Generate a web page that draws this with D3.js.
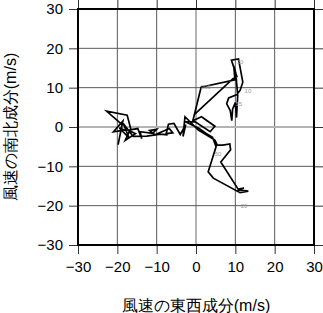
<!DOCTYPE html>
<html>
<head>
<meta charset="utf-8">
<script src="https://cdn.jsdelivr.net/npm/d3@7"></script>
<style>
  body { margin: 0; background: #fff; }
  text { font-family: "Liberation Sans", Arial, sans-serif; }
</style>
</head>
<body>
<svg width="323" height="313"></svg>
<script>
const svg = d3.select("svg");

// axis ticks
const xTicks = [-30, -20, -10, 0, 10, 20, 30];
const yTicks = [-30, -20, -10, 0, 10, 20, 30];

// wind components (m/s), in path order
const windU = [
  -0.3, 9.4, 10.4, 9.0, 10.8, 11.9, 11.2, 10.3, 8.3, 7.8, 8.7, 9.1, 9.3, 10.0, 10.3, 10.6, 10.1, 9.6, 9.9, 1.3, -0.8,
  1.4, 4.8, 3.6, -0.2, -2.8, 0.8, 2.5, 4.2, 5.1, 3.1, 4.4, 11.2, 13.3, 10.6, 12.2, 10.7, 6.3, 8.8, 8.6, 6.8, 5.4, 4.8, 2.8, 0.6,
  -2.8, -3.3, -2.6, -4.0, -5.6, -7.0, -7.6, -5.9, -6.8, -10.4, -11.8, -10.0, -11.0, -14.2, -13.8, -14.8, -17.2, -15.4, -18.0,
  -16.6, -17.5, -22.7, -18.8, -19.8, -18.6, -21.0, -18.2, -19.5, -17.0, -18.5, -16.0, -12.5, -9.0, -7.2
];
const windV = [
  3.3, 12.3, 12.8, 17.0, 17.3, 11.4, 9.3, 8.2, 7.4, 5.9, 4.2, 1.6, 4.5, 6.2, 2.4, 8.0, 13.8, 15.5, 12.0, 10.1, 1.6,
  2.6, 0.2, -1.2, 1.3, 1.4, -0.4, -1.6, -2.6, -5.0, -11.4, -13.0, -16.7, -16.3, -16.0, -15.5, -15.8, -8.9, -5.8, -4.3, -4.6, -4.6, -3.3, -2.1, -0.8,
  2.6, -2.4, 0.6, -1.9, 0.9, 0.7, -1.7, -1.5, -0.4, -2.0, -0.9, -0.6, -1.6, -1.2, -3.0, -0.4, -0.8, -1.7, -3.4,
  -0.4, 3.0, 4.0, 0.6, -4.5, 1.5, -1.2, -0.8, -0.2, -2.8, 0.9, -2.4, -2.3, -1.8, -2.0
];

// small grey time labels along the trace
const markText = ["30", "200", "10", "15", "50", "20"];
const markU = [11.2, 2.5, 13.2, 10.9, 5.6, 12.2];
const markV = [16.5, 10.2, 9.2, 5.8, -6.9, -20.1];

const pL = 78, pR = 314, pT = 9, pB = 245;

const x = d3.scaleLinear().domain([-30, 30]).range([pL, pR]);
const y = d3.scaleLinear().domain([-30, 30]).range([pB, pT]);

// grid
const grid = svg.append("g");
grid.selectAll(".gx").data(xTicks).join("line")
  .attr("x1", d => x(d)).attr("x2", d => x(d))
  .attr("y1", pT).attr("y2", pB)
  .attr("stroke", d => d === 0 ? "#b4b4b4" : "#5a5a5a")
  .attr("stroke-width", d => d === 0 ? 2 : 1);
grid.selectAll(".gy").data(yTicks).join("line")
  .attr("y1", d => y(d)).attr("y2", d => y(d))
  .attr("x1", pL).attr("x2", pR)
  .attr("stroke", d => d === 0 ? "#b4b4b4" : "#5a5a5a")
  .attr("stroke-width", d => d === 0 ? 2 : 1);

// axes with outward ticks on all four sides
const tl = 9;
svg.append("g").attr("transform", `translate(0,${pB})`)
  .call(d3.axisBottom(x).tickValues(xTicks).tickSize(tl).tickSizeOuter(0).tickPadding(7))
  .call(g => g.select(".domain").remove());
svg.append("g").attr("transform", `translate(0,${pT})`)
  .call(d3.axisTop(x).tickValues(xTicks).tickSize(tl).tickSizeOuter(0).tickFormat(""))
  .call(g => g.select(".domain").remove());
svg.append("g").attr("transform", `translate(${pL},0)`)
  .call(d3.axisLeft(y).tickValues(yTicks).tickSize(tl).tickSizeOuter(0).tickPadding(6))
  .call(g => g.select(".domain").remove());
svg.append("g").attr("transform", `translate(${pR},0)`)
  .call(d3.axisRight(y).tickValues(yTicks).tickSize(tl).tickSizeOuter(0).tickFormat(""))
  .call(g => g.select(".domain").remove());

svg.selectAll(".tick line").attr("stroke", "#333");
svg.selectAll(".tick text")
  .attr("font-family", "'Liberation Sans', Arial, sans-serif")
  .attr("font-size", 15)
  .attr("fill", "#000");

// frame
svg.append("rect")
  .attr("x", pL).attr("y", pT)
  .attr("width", pR - pL).attr("height", pB - pT)
  .attr("fill", "none").attr("stroke", "#000").attr("stroke-width", 2);

// trace
const pts = windU.map((u, i) => [u, windV[i]]);
svg.append("path")
  .datum(pts)
  .attr("fill", "none")
  .attr("stroke", "#000")
  .attr("stroke-width", 1.7)
  .attr("stroke-linejoin", "miter")
  .attr("d", d3.line().x(d => x(d[0])).y(d => y(d[1])));

svg.append("g").selectAll("text").data(markText).join("text")
  .attr("x", (d, i) => x(markU[i]))
  .attr("y", (d, i) => y(markV[i]))
  .attr("dy", "0.35em")
  .attr("text-anchor", "middle")
  .attr("font-size", 6)
  .attr("fill", "#999")
  .text(d => d);

// titles
svg.append("text")
  .attr("x", (pL + pR) / 2).attr("y", 305)
  .attr("dy", "0.35em")
  .attr("text-anchor", "middle")
  .attr("font-family", "'Noto Sans CJK JP', sans-serif")
  .attr("font-size", 16)
  .text("風速の東西成分(m/s)");

svg.append("text")
  .attr("transform", `translate(10,${(pT + pB) / 2}) rotate(-90)`)
  .attr("dy", "0.35em")
  .attr("text-anchor", "middle")
  .attr("font-family", "'Noto Sans CJK JP', sans-serif")
  .attr("font-size", 16)
  .text("風速の南北成分(m/s)");
</script>
</body>
</html>
